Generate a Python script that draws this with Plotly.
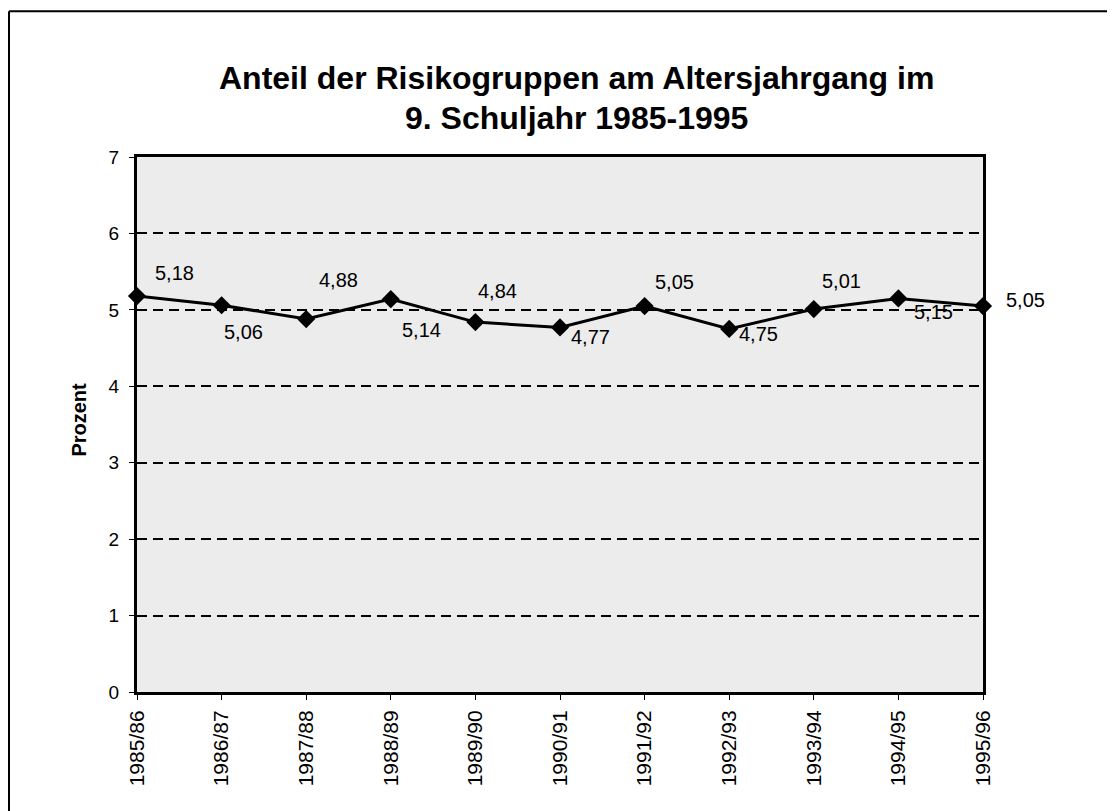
import plotly.graph_objects as go

# Data
categories = ["1985/86", "1986/87", "1987/88", "1988/89", "1989/90", "1990/91",
              "1991/92", "1992/93", "1993/94", "1994/95", "1995/96"]
values = [5.18, 5.06, 4.88, 5.14, 4.84, 4.77, 5.05, 4.75, 5.01, 5.15, 5.05]
value_labels = ["5,18", "5,06", "4,88", "5,14", "4,84", "4,77",
                "5,05", "4,75", "5,01", "5,15", "5,05"]
y_ticks = [0, 1, 2, 3, 4, 5, 6, 7]

# Style: label offsets in pixels (dx right, dy down) relative to each marker
label_dx = [37, 22, 32, 31, 22, 30, 30, 29, 28, 35, 42]
label_dy = [-23, 27, -39, 31, -31, 10, -24, 5, -28, 14, -6]

FONT = "Liberation Sans, Arial, sans-serif"

fig = go.Figure()
fig.add_trace(go.Scatter(
    x=categories, y=values, mode="lines+markers",
    line=dict(color="black", width=3),
    marker=dict(symbol="diamond", size=14, color="black"),
    cliponaxis=False, showlegend=False,
))

annotations = []
for c, v, t, dx, dy in zip(categories, values, value_labels, label_dx, label_dy):
    annotations.append(dict(
        x=c, y=v, xref="x", yref="y", text=t, showarrow=False,
        xshift=dx, yshift=-dy, xanchor="center", yanchor="middle",
        font=dict(family=FONT, size=20, color="black"),
    ))

# Title lines
annotations.append(dict(
    x=0.52, y=1, xref="paper", yref="paper", yshift=79,
    text="<b>Anteil der Risikogruppen am Altersjahrgang im</b>",
    showarrow=False, xanchor="center", yanchor="middle",
    font=dict(family=FONT, size=32, color="black"),
))
annotations.append(dict(
    x=0.52, y=1, xref="paper", yref="paper", yshift=39,
    text="<b>9. Schuljahr 1985-1995</b>",
    showarrow=False, xanchor="center", yanchor="middle",
    font=dict(family=FONT, size=32, color="black"),
))
# Y axis title
annotations.append(dict(
    x=-0.068, y=0.51, xref="paper", yref="paper",
    text="<b>Prozent</b>", textangle=-90, showarrow=False,
    xanchor="center", yanchor="middle",
    font=dict(family=FONT, size=20, color="black"),
))

# Outer frame (top and left lines)
shapes = [
    dict(type="line", xref="paper", yref="paper", x0=-0.1513, x1=1.2, y0=1.2725, y1=1.2725,
         line=dict(color="black", width=2)),
    dict(type="line", xref="paper", yref="paper", x0=-0.1513, x1=-0.1513, y0=1.2725, y1=-0.25,
         line=dict(color="black", width=2)),
]

fig.update_layout(
    width=1107, height=803,
    margin=dict(l=129, r=132, t=149, b=119),
    paper_bgcolor="white",
    plot_bgcolor="#ececec",
    font=dict(family=FONT, color="black"),
    annotations=annotations,
    shapes=shapes,
)
fig.update_xaxes(
    type="category", range=[0, 10],
    showline=True, mirror=True, linecolor="black", linewidth=3,
    showgrid=False, ticks="outside", ticklen=5, tickcolor="black",
    tickangle=-90, tickfont=dict(family=FONT, size=21, color="black"),
    ticklabelstandoff=2,
)
fig.update_yaxes(
    range=[0, 7], tickvals=y_ticks,
    showline=True, mirror=True, linecolor="black", linewidth=3,
    showgrid=True, gridcolor="black", gridwidth=1.5, griddash="10px,6px",
    zeroline=False,
    ticks="outside", ticklen=5, tickcolor="black",
    tickfont=dict(family=FONT, size=19, color="black"),
    ticklabelstandoff=6,
)

fig.write_html("out.html")
